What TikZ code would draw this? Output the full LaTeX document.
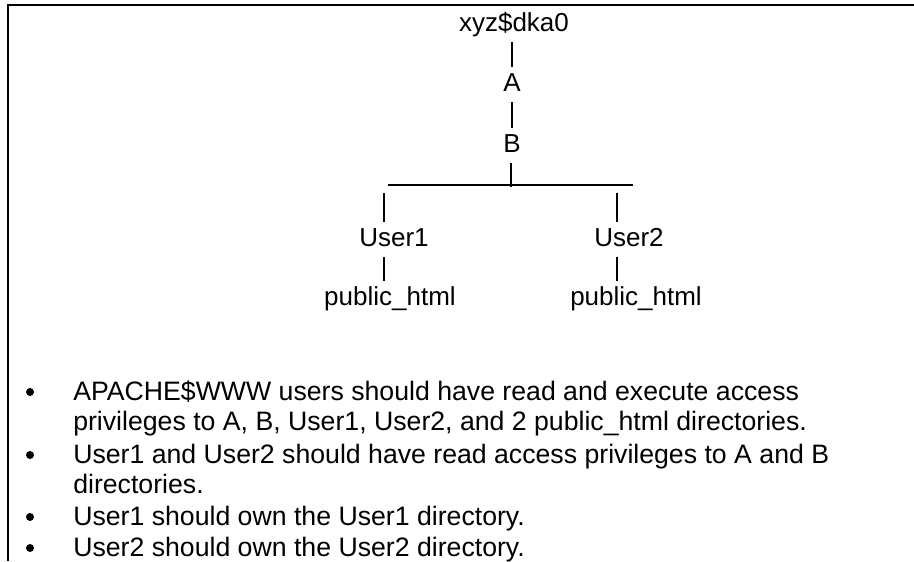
\documentclass[tikz,border=0pt]{standalone}
\usepackage{fontspec}
\setmainfont{Liberation Sans}
\usetikzlibrary{positioning}

\tikzset{
  dir/.style={inner sep=0pt, anchor=base, text height=13.5pt, text depth=3.75pt,
    font=\fontsize{19.5}{22.5}\selectfont},
  bar/.style={line width=1.2pt, shorten <=4.5pt, shorten >=4.5pt},
  item/.style={inner sep=0pt, anchor=base west, align=left,
    font=\fontsize{20}{22.5}\selectfont},
  dot/.style={circle, fill=black, inner sep=0pt, minimum size=6pt}
}

\begin{document}
\begin{tikzpicture}[x=0.75pt,y=-0.75pt]
 \useasboundingbox (0,0) rectangle (914,561);
 \draw[line width=1.6pt] (914,5) -- (8,5) -- (8,561);

 % directory tree
 \node[dir] (root) at (514,31) {xyz\$dka0};
 \node[dir] (dirA) at (512,91) {A};
 \node[dir] (dirB) at (512,152) {B};
 \node[dir] (user1) at (394,246) {User1};
 \node[dir] (user2) at (629,246) {User2};
 \node[dir] (html1) at (390,305) {public\_html};
 \node[dir] (html2) at (636,305) {public\_html};

 \coordinate (fork) at (511,187);
 \coordinate (forkL) at (388,185);
 \coordinate (forkR) at (633,185);
 \coordinate (dropL) at (384,193);
 \coordinate (dropR) at (617,193);

 \draw[bar] (root.south -| dirA) -- (dirA);
 \draw[bar] (dirA) -- (dirB);
 \draw[bar,shorten >=0pt] (dirB.south -| fork) -- (fork);
 \draw[line width=1.2pt] (forkL) -- (forkR);
 \draw[bar,shorten <=0pt] (dropL) -- (dropL |- user1.north);
 \draw[bar,shorten <=0pt] (dropR) -- (dropR |- user2.north);
 \draw[bar] (user1.south -| dropL) -- (html1.north -| dropL);
 \draw[bar] (user2.south -| dropR) -- (html2.north -| dropR);

 % access notes
 \node[dot] (dot1) at (30,392) {};
 \node[dot] (dot2) at (30,455) {};
 \node[dot] (dot3) at (30,517) {};
 \node[dot] (dot4) at (30,548) {};
 \node[item] (item1) at (73,430) {APACHE\$WWW users should have read and execute access\\
   privileges to A, B, User1, User2, and 2 public\_html directories.};
 \node[item] (item2) at (73,493) {User1 and User2 should have read access privileges to A and B\\
   directories.};
 \node[item] (item3) at (73,525) {User1 should own the User1 directory.};
 \node[item] (item4) at (73,556) {User2 should own the User2 directory.};
\end{tikzpicture}
\end{document}
